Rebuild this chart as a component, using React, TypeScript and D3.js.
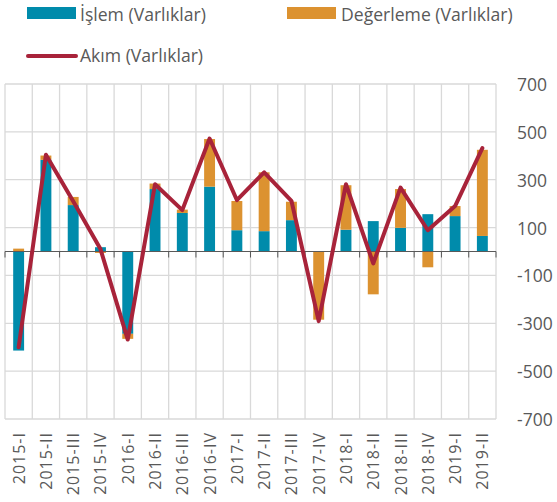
import React from 'react';
import * as d3 from 'd3';

const categories = [
  '2015-I', '2015-II', '2015-III', '2015-IV',
  '2016-I', '2016-II', '2016-III', '2016-IV',
  '2017-I', '2017-II', '2017-III', '2017-IV',
  '2018-I', '2018-II', '2018-III', '2018-IV',
  '2019-I', '2019-II',
];
const islem = [-414, 383, 194, 18, -344, 261, 161, 271, 89, 85, 131, 0, 91, 127, 99, 156, 148, 65];
const degerleme = [12, 18, 34, -6, -21, 23, 14, 199, 122, 246, 77, -285, 186, -179, 162, -66, 42, 360];
const akim = [-400, 404, 210, 10, -368, 281, 173, 472, 215, 331, 212, -291, 281, -50, 267, 89, 190, 432];
const yTicks = [700, 500, 300, 100, -100, -300, -500, -700];

const W = 557, H = 502;
const left = 5, right = 496, top = 84, bottom = 419;
const font = '"Open Sans", sans-serif';
const textColor = '#595959';
const gridColor = '#d9d9d9';
const colors = { islem: '#008bab', degerleme: '#dc9230', akim: '#a8233a' };

export default function App() {
  const x = d3.scaleBand().domain(categories).range([left, right]).paddingInner(0).paddingOuter(0);
  const y = d3.scaleLinear().domain([-700, 700]).range([bottom, top]);
  const bw = x.bandwidth() * 0.4;

  const rows = categories.map((c, i) => ({ cat: c, islem: islem[i], degerleme: degerleme[i] }));
  const stacked = d3.stack<any>()
    .keys(['islem', 'degerleme'])
    .offset(d3.stackOffsetDiverging)(rows);

  const line = d3.line<number>()
    .x((_, i) => x(categories[i])! + x.bandwidth() / 2)
    .y(d => y(d));

  const boundaries = d3.range(categories.length + 1).map(i => left + i * x.bandwidth());

  return (
    <svg width={W} height={H} style={{ position: 'absolute', left: 0, top: 0 }}>
      <rect width={W} height={H} fill="#fff" />
      {/* grid */}
      {yTicks.map(t => (
        <line key={'h' + t} x1={left} x2={right} y1={y(t)} y2={y(t)} stroke={gridColor} strokeWidth={1.3} />
      ))}
      {boundaries.map((bx, i) => (
        <line key={'v' + i} x1={bx} x2={bx} y1={top} y2={bottom} stroke={gridColor} strokeWidth={1.3} />
      ))}
      {/* bars */}
      {stacked.map(s => (
        <g key={s.key} fill={(colors as any)[s.key]}>
          {s.map((d, i) => (
            <rect key={i}
              x={x(categories[i])! + (x.bandwidth() - bw) / 2}
              y={y(Math.max(d[0], d[1]))}
              width={bw}
              height={Math.abs(y(d[0]) - y(d[1]))} />
          ))}
        </g>
      ))}
      {/* zero axis */}
      <line x1={left} x2={right} y1={y(0)} y2={y(0)} stroke={textColor} strokeWidth={1} />
      {boundaries.map((bx, i) => (
        <line key={'t' + i} x1={bx} x2={bx} y1={y(0)} y2={y(0) + 6} stroke={textColor} strokeWidth={1} />
      ))}
      {/* line */}
      <path d={line(akim)!} fill="none" stroke={colors.akim} strokeWidth={4} strokeLinejoin="round" strokeLinecap="round" />
      {/* y labels */}
      {yTicks.map(t => (
        <text key={'y' + t} x={517} y={y(t)} dominantBaseline="central" fontFamily={font} fontSize={17.5} fill={textColor}>
          {t}
        </text>
      ))}
      {/* x labels */}
      {categories.map(c => {
        const cx = x(c)! + x.bandwidth() / 2;
        return (
          <text key={c} transform={`translate(${cx},432) rotate(-90)`} textAnchor="end" dominantBaseline="central"
            fontFamily={font} fontSize={16} letterSpacing={1} fill={textColor}>
            {c}
          </text>
        );
      })}
      {/* legend */}
      <rect x={27} y={7} width={49} height={12} fill={colors.islem} />
      <text x={80} y={14} dominantBaseline="central" fontFamily={font} fontSize={17.6} fill={textColor}>İşlem (Varlıklar)</text>
      <rect x={287} y={7} width={49} height={12} fill={colors.degerleme} />
      <text x={341} y={14} dominantBaseline="central" fontFamily={font} fontSize={17.6} fill={textColor}>Değerleme (Varlıklar)</text>
      <line x1={28} x2={76} y1={56} y2={56} stroke={colors.akim} strokeWidth={4} strokeLinecap="round" />
      <text x={80} y={55} dominantBaseline="central" fontFamily={font} fontSize={17.6} fill={textColor}>Akım (Varlıklar)</text>
    </svg>
  );
}
